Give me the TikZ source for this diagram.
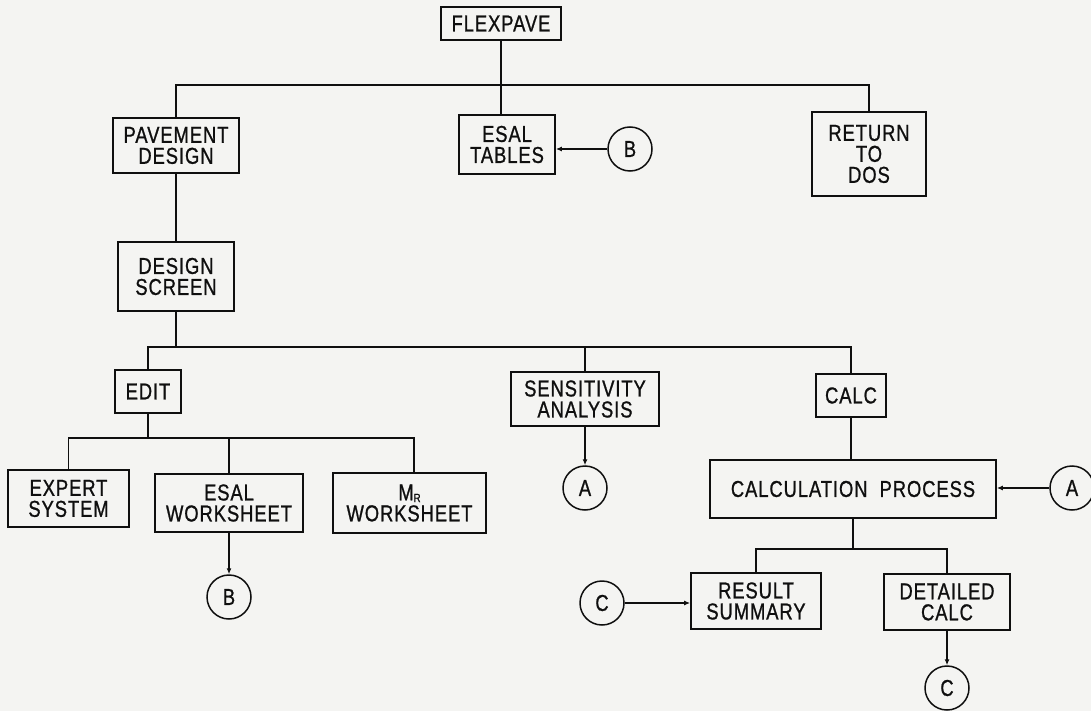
\documentclass[tikz,border=0pt]{standalone}
\usepackage{fontspec}
\setmainfont[FakeStretch=0.8,LetterSpace=4,FakeBold=0.9]{Liberation Sans}
\usetikzlibrary{arrows.meta}
\definecolor{paper}{RGB}{244,244,242}
\definecolor{ink}{RGB}{15,15,15}
\begin{document}
\begin{tikzpicture}[x=1pt,y=-1pt,
  line width=1.7pt,
  box/.style={draw=ink, line width=1.7pt, align=center, inner sep=0pt,
    font=\fontsize{23}{21}\selectfont, text=ink},
  conn/.style={circle, draw=ink, line width=1.5pt, minimum size=44pt, inner sep=0pt,
    font=\fontsize{23}{21}\selectfont, text=ink},
  wire/.style={draw=ink, line width=1.7pt},
  arr/.style={draw=ink, line width=1.7pt, -{Latex[length=6pt,width=5pt]}}
]
\fill[paper] (0,0) rectangle (1091,711);
\useasboundingbox (0,0) rectangle (1091,711);

% nodes
\node[box, minimum width=120pt, minimum height=33pt] (flex) at (501,23.5) {FLEXPAVE};
\node[box, minimum width=126pt, minimum height=55pt] (pave) at (176,145.5) {PAVEMENT\\DESIGN};
\node[box, minimum width=96pt, minimum height=59pt] (esalt) at (507,144.5) {ESAL\\TABLES};
\node[conn] (b1) at (630,149) {B};
\node[box, minimum width=114pt, minimum height=84pt] (ret) at (869,154) {RETURN\\TO\\DOS};
\node[box, minimum width=116pt, minimum height=69pt] (dscr) at (176,276.5) {DESIGN\\SCREEN};
\node[box, minimum width=66pt, minimum height=43pt] (edit) at (148,391.5) {EDIT};
\node[box, minimum width=148pt, minimum height=54pt] (sens) at (585,399) {SENSITIVITY\\ANALYSIS};
\node[conn] (a1) at (585,488) {A};
\node[box, minimum width=70pt, minimum height=43pt] (calc) at (851,395.5) {CALC};
\node[box, minimum width=121pt, minimum height=57pt] (expert) at (68.5,498.5) {EXPERT\\SYSTEM};
\node[box, minimum width=148pt, minimum height=58pt] (esalw) at (229,503) {ESAL\\WORKSHEET};
\node[box, minimum width=153pt, minimum height=60pt] (mrw) at (409.5,503) {M\raisebox{-0.15ex}{\fontsize{12}{12}\selectfont R}\\WORKSHEET};
\node[conn] (b2) at (229,597) {B};
\node[box, minimum width=286pt, minimum height=58pt] (cproc) at (853,489) {CALCULATION\ \ PROCESS};
\node[conn] (a2) at (1072,488) {A};
\node[box, minimum width=130pt, minimum height=56pt] (res) at (756,601) {RESULT\\SUMMARY};
\node[box, minimum width=126pt, minimum height=56pt] (det) at (947,602) {DETAILED\\CALC};
\node[conn] (c1) at (602,603) {C};
\node[conn] (c2) at (947,688) {C};

% bus coordinates
\coordinate (bus1) at (501,85);
\coordinate (bus2) at (176,347);
\coordinate (bus3) at (148,438);
\coordinate (bus4) at (853,549);

% level 1
\draw[wire] (flex.south) -- (flex.south |- esalt.north);
\draw[wire] (pave.north) -- (pave.north |- bus1) -- (bus1 -| ret.north) -- (ret.north);
\draw[arr] (b1.west) -- (esalt.east |- b1.west);
% level 2
\draw[wire] (pave.south) -- (dscr.north);
\draw[wire] (dscr.south) -- (dscr.south |- bus2);
\draw[wire] (edit.north) -- (edit.north |- bus2) -- (bus2 -| calc.north) -- (calc.north);
\draw[wire] (sens.north) -- (sens.north |- bus2);
\draw[arr] (sens.south) -- (a1.north);
% edit children
\draw[wire] (edit.south) -- (bus3);
\draw[wire] (expert.north) -- (bus3 -| expert.north) -- (bus3 -| 414,0) -- (414,473);
\draw[wire] (bus3 -| esalw.north) -- (esalw.north);
\draw[arr] (esalw.south) -- (b2.north);
% calc
\draw[wire] (calc.south) -- (calc.south |- cproc.north);
\draw[arr] (a2.west) -- (cproc.east |- a2.west);
\draw[wire] (cproc.south) -- (bus4);
\draw[wire] (res.north) -- (res.north |- bus4) -- (bus4 -| det.north) -- (det.north);
\draw[arr] (c1.east) -- (res.west |- c1.east);
\draw[arr] (det.south) -- (c2.north);
\end{tikzpicture}
\end{document}
